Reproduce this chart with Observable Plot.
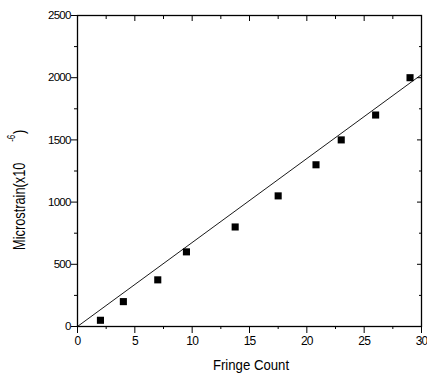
<!DOCTYPE html>
<html>
<head>
<meta charset="utf-8">
<script src="https://cdn.jsdelivr.net/npm/d3@7"></script>
<script src="https://cdn.jsdelivr.net/npm/@observablehq/plot@0.6"></script>
<style>
  html, body { margin: 0; padding: 0; background: white; }
</style>
</head>
<body>
<div id="chart"></div>
<script>
// Data
const fringeCount = [2, 4, 7, 9.5, 13.75, 17.5, 20.8, 23, 26, 29];
const microstrain = [50, 200, 375, 600, 800, 1050, 1300, 1500, 1700, 2000];
// straight reference line
const lineX = [0, 30];
const lineY = [0, 2025];
// ticks
const xMajor = [0, 5, 10, 15, 20, 25, 30];
const xMinor = [2.5, 7.5, 12.5, 17.5, 22.5, 27.5];
const yMajor = [0, 500, 1000, 1500, 2000, 2500];
const yMinor = [250, 750, 1250, 1750, 2250];
const xLabel = "Fringe Count";
const yLabelMain = "Microstrain(x10";
const yLabelSup = "-6";
const yLabelEnd = ")";

const points = fringeCount.map((x, i) => ({x, y: microstrain[i]}));
const fit = lineX.map((x, i) => ({x, y: lineY[i]}));
const blank = () => "";

const chart = Plot.plot({
  width: 427,
  height: 374,
  marginLeft: 77,
  marginRight: 6,
  marginTop: 15,
  marginBottom: 48,
  style: "font-family: 'Liberation Sans', Arial, sans-serif; font-size: 12px; letter-spacing: -0.8px; background: white; color: black;",
  x: {domain: [0, 30]},
  y: {domain: [0, 2500]},
  marks: [
    Plot.axisX(xMajor, {anchor: "bottom", tickSize: 7, tickPadding: 3, label: null, fontSize: 12, tickFormat: "d"}),
    Plot.axisX(xMinor, {anchor: "bottom", tickSize: 3, tickFormat: blank, label: null}),
    Plot.axisX(xMajor, {anchor: "top", tickSize: -5, tickFormat: blank, label: null}),
    Plot.axisX(xMinor, {anchor: "top", tickSize: -3, tickFormat: blank, label: null}),
    Plot.axisY(yMajor, {anchor: "left", tickSize: 6, tickPadding: 1, label: null, fontSize: 11.5, tickFormat: "d"}),
    Plot.axisY(yMinor, {anchor: "left", tickSize: 3, tickFormat: blank, label: null}),
    Plot.axisY(yMajor, {anchor: "right", tickSize: -5, tickFormat: blank, label: null}),
    Plot.axisY(yMinor, {anchor: "right", tickSize: -3, tickFormat: blank, label: null}),
    Plot.frame({stroke: "black", strokeWidth: 1.3}),
    Plot.line(fit, {x: "x", y: "y", stroke: "black", strokeWidth: 0.9}),
    Plot.dot(points, {x: "x", y: "y", symbol: "square", r: 4, fill: "black", stroke: "none"})
  ]
});

document.getElementById("chart").appendChild(chart);

const svg = d3.select(chart);
// x axis title
svg.append("text")
  .attr("transform", "translate(251,370) scale(0.88,1)")
  .attr("text-anchor", "middle")
  .attr("fill", "black")
  .style("font-size", "15px")
  .style("letter-spacing", "0px")
  .text(xLabel);

// y axis title with superscript
const yt = svg.append("text")
  .attr("transform", "translate(25,250) rotate(-90) scale(0.8,1)")
  .attr("text-anchor", "start")
  .attr("fill", "black")
  .style("font-size", "16px")
  .style("letter-spacing", "0px");
yt.append("tspan").text(yLabelMain);
yt.append("tspan").attr("dx", 26).attr("dy", -10).style("font-size", "10px").text(yLabelSup);
yt.append("tspan").attr("dx", 1).attr("dy", 10).text(yLabelEnd);
</script>
</body>
</html>
